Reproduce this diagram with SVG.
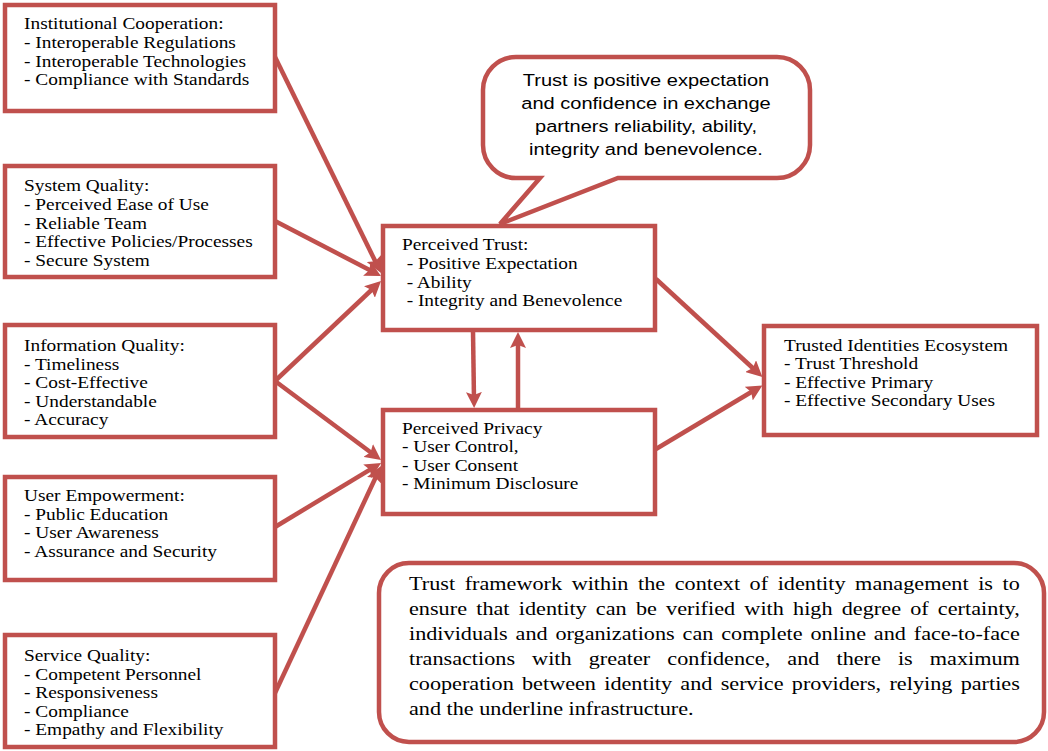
<svg xmlns="http://www.w3.org/2000/svg" width="1048" height="751" viewBox="0 0 1048 751">
<style>
.box{fill:#fff;stroke:#C0504D;stroke-width:4.5}
.con{stroke:#C0504D;stroke-width:4.5;fill:none;marker-end:url(#ah)}
.t{font-family:"Liberation Serif","Times New Roman",serif;font-size:16.7px;fill:#000}
.c{font-family:"Liberation Sans",Arial,sans-serif;font-size:16.7px;fill:#000;text-anchor:middle}
.b{font-family:"Liberation Serif","Times New Roman",serif;font-size:18.5px;fill:#000}
</style>
<defs>
<marker id="ah" markerUnits="userSpaceOnUse" viewBox="0 0 16 16" refX="8" refY="8" markerWidth="16" markerHeight="16" orient="auto">
<path d="M0,0 L16,8 L0,16 L3,8 Z" fill="#C0504D"/>
</marker>
</defs>
<rect width="1048" height="751" fill="#fff"/>

<g id="connectors">
<line class="con" x1="275" y1="57" x2="377.5" y2="265.8"/>
<line class="con" x1="275" y1="221" x2="373.9" y2="272.3"/>
<line class="con" x1="275" y1="381" x2="375.2" y2="286.5"/>
<line class="con" x1="275" y1="381" x2="374.6" y2="455.2"/>
<line class="con" x1="275" y1="527" x2="374.2" y2="467.1"/>
<line class="con" x1="275" y1="693" x2="377.6" y2="473.2"/>
<line class="con" x1="473" y1="331" x2="474" y2="400"/>
<line class="con" x1="518" y1="410" x2="518" y2="340"/>
<line class="con" x1="656" y1="279" x2="756.5" y2="371.5"/>
<line class="con" x1="656" y1="449" x2="755.5" y2="389.5"/>
</g>

<g id="institutional">
<rect class="box" x="5" y="5" width="270" height="106"/>
<text class="t" transform="translate(24 0) scale(1.16 1)"><tspan x="0" y="29">Institutional Cooperation:</tspan><tspan x="0" y="48">- Interoperable Regulations</tspan><tspan x="0" y="67">- Interoperable Technologies</tspan><tspan x="0" y="85">- Compliance with Standards</tspan></text>
</g>

<g id="system">
<rect class="box" x="5" y="166" width="270" height="111"/>
<text class="t" transform="translate(24 0) scale(1.16 1)"><tspan x="0" y="191">System Quality:</tspan><tspan x="0" y="210">- Perceived Ease of Use</tspan><tspan x="0" y="229">- Reliable Team</tspan><tspan x="0" y="247">- Effective Policies/Processes</tspan><tspan x="0" y="266">- Secure System</tspan></text>
</g>

<g id="information">
<rect class="box" x="5" y="325" width="270" height="112"/>
<text class="t" transform="translate(24 0) scale(1.16 1)"><tspan x="0" y="351">Information Quality:</tspan><tspan x="0" y="370">- Timeliness</tspan><tspan x="0" y="388">- Cost-Effective</tspan><tspan x="0" y="407">- Understandable</tspan><tspan x="0" y="425">- Accuracy</tspan></text>
</g>

<g id="empowerment">
<rect class="box" x="5" y="477" width="270" height="103"/>
<text class="t" transform="translate(24 0) scale(1.16 1)"><tspan x="0" y="501">User Empowerment:</tspan><tspan x="0" y="520">- Public Education</tspan><tspan x="0" y="538">- User Awareness</tspan><tspan x="0" y="557">- Assurance and Security</tspan></text>
</g>

<g id="service">
<rect class="box" x="5" y="635" width="270" height="112"/>
<text class="t" transform="translate(24 0) scale(1.16 1)"><tspan x="0" y="661">Service Quality:</tspan><tspan x="0" y="680">- Competent Personnel</tspan><tspan x="0" y="698">- Responsiveness</tspan><tspan x="0" y="717">- Compliance</tspan><tspan x="0" y="735">- Empathy and Flexibility</tspan></text>
</g>

<g id="trust">
<rect class="box" x="383" y="226" width="272" height="104"/>
<text class="t" transform="translate(402 0) scale(1.16 1)"><tspan x="0" y="250">Perceived Trust:</tspan><tspan x="4" y="269">- Positive Expectation</tspan><tspan x="4" y="288">- Ability</tspan><tspan x="4" y="306">- Integrity and Benevolence</tspan></text>
</g>

<g id="privacy">
<rect class="box" x="383" y="410" width="272" height="104"/>
<text class="t" transform="translate(402 0) scale(1.16 1)"><tspan x="0" y="434">Perceived Privacy</tspan><tspan x="0" y="452">- User Control,</tspan><tspan x="0" y="471">- User Consent</tspan><tspan x="0" y="489">- Minimum Disclosure</tspan></text>
</g>

<g id="ecosystem">
<rect class="box" x="764" y="326" width="273" height="109"/>
<text class="t" transform="translate(784 0) scale(1.16 1)"><tspan x="0" y="351">Trusted Identities Ecosystem</tspan><tspan x="0" y="369">- Trust Threshold</tspan><tspan x="0" y="388">- Effective Primary</tspan><tspan x="0" y="406">- Effective Secondary Uses</tspan></text>
</g>

<g id="callout">
<path class="box" d="M516,57 H777 A33,33 0 0 1 810,90 V145 A33,33 0 0 1 777,178 H618 L500,224 L540,178 H516 A33,33 0 0 1 483,145 V90 A33,33 0 0 1 516,57 Z"/>
<text class="c" transform="translate(646 0) scale(1.2 1)"><tspan x="0" y="86">Trust is positive expectation</tspan><tspan x="0" y="109">and confidence in exchange</tspan><tspan x="0" y="132">partners reliability, ability,</tspan><tspan x="0" y="155">integrity and benevolence.</tspan></text>
</g>

<g id="framework">
<rect class="box" x="379" y="563" width="665" height="179" rx="30" ry="30"/>
<g transform="translate(409 0) scale(1.2 1)">
<text class="b" x="0" y="590" textLength="509" lengthAdjust="spacing" word-spacing="3.3">Trust framework within the context of identity management is to</text>
<text class="b" x="0" y="615" textLength="509" lengthAdjust="spacing" word-spacing="3">ensure that identity can be verified with high degree of certainty,</text>
<text class="b" x="0" y="640" textLength="509" lengthAdjust="spacing" word-spacing="1.9">individuals and organizations can complete online and face-to-face</text>
<text class="b" x="0" y="665" textLength="509" lengthAdjust="spacing" word-spacing="9.6">transactions with greater confidence, and there is maximum</text>
<text class="b" x="0" y="690" textLength="509" lengthAdjust="spacing" word-spacing="2.3">cooperation between identity and service providers, relying parties</text>
<text class="b" x="0" y="715">and the underline infrastructure.</text>
</g>
</g>
</svg>
